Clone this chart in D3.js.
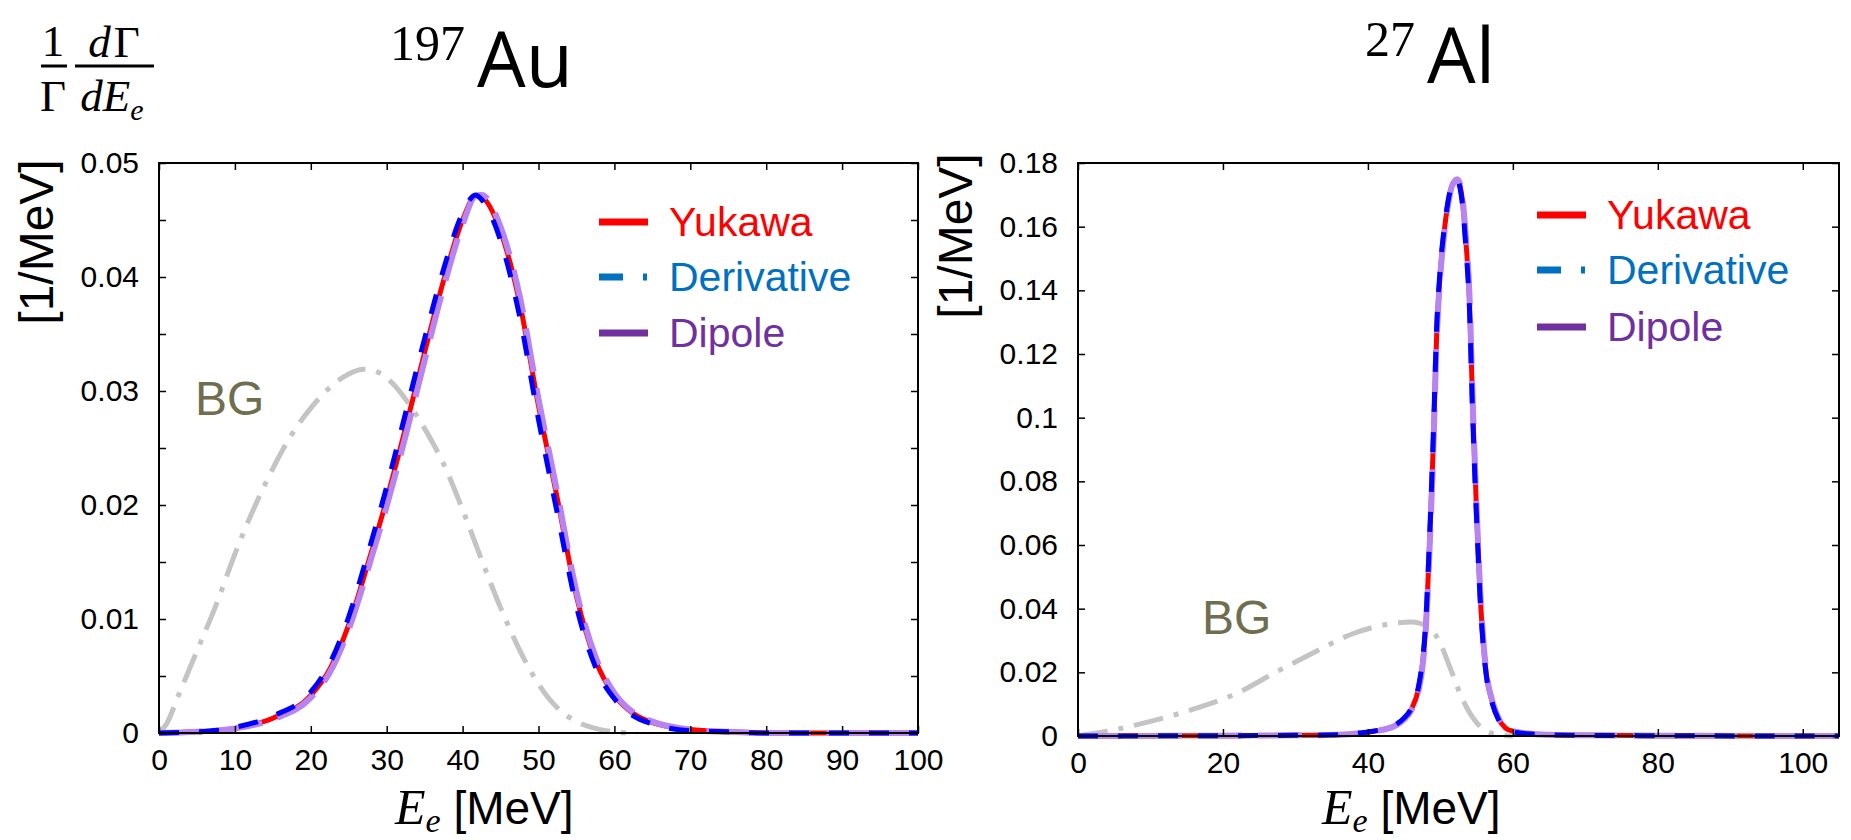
<!DOCTYPE html>
<html>
<head>
<meta charset="utf-8">
<script src="https://cdn.jsdelivr.net/npm/d3@7"></script>
<style>
  body { margin: 0; background: #fff; }
  svg { display: block; }
  text { font-family: "Liberation Sans", Arial, sans-serif; }
</style>
</head>
<body>
<svg id="chart" width="1851" height="840"></svg>
<script>
// 197Au panel, values
const auX = [0, 5, 10, 15, 20, 22.5, 25, 27.5, 30, 32.5, 35, 37.5, 40, 41.7, 42.5, 45, 47.5, 50, 52.5, 55, 57.5, 60, 62.5, 65, 70, 75, 80, 90, 100];
const auYukawa     = [0, 0.0001, 0.0004, 0.0013, 0.0033, 0.0056, 0.0095, 0.0148, 0.0205, 0.0268, 0.0334, 0.0397, 0.0450, 0.0471, 0.0470, 0.0440, 0.0378, 0.0287, 0.0205, 0.0120, 0.0064, 0.0033, 0.0017, 0.0009, 0.0003, 0.0001, 0, 0, 0];
const auDerivative = [0, 0.0001, 0.0005, 0.0015, 0.0036, 0.0061, 0.0102, 0.0157, 0.0216, 0.0281, 0.0346, 0.0407, 0.0456, 0.0472, 0.0468, 0.0432, 0.0366, 0.0275, 0.0192, 0.0111, 0.0058, 0.0030, 0.0015, 0.0008, 0.0002, 0.0001, 0, 0, 0];
const auDipole     = [0, 0.0001, 0.0004, 0.0012, 0.0031, 0.0053, 0.0091, 0.0143, 0.0199, 0.0261, 0.0327, 0.0391, 0.0446, 0.0471, 0.0472, 0.0444, 0.0384, 0.0293, 0.0210, 0.0124, 0.0067, 0.0035, 0.0018, 0.0010, 0.0003, 0.0001, 0, 0, 0];
const auBgX = [0, 1, 2.5, 5, 7.5, 10, 12.5, 15, 17.5, 20, 22.5, 25, 27, 29, 31, 33, 35, 37.5, 40, 42.5, 45, 47.5, 50, 52.5, 55, 57.5, 60, 63];
const auBg  = [0, 0.0008, 0.0032, 0.0072, 0.0112, 0.0157, 0.0197, 0.0232, 0.0262, 0.0285, 0.0303, 0.0315, 0.0319, 0.0316, 0.0305, 0.0288, 0.0267, 0.0236, 0.0196, 0.0152, 0.0110, 0.0073, 0.0043, 0.0022, 0.0010, 0.0004, 0.0001, 0];
const auXTicks = [0, 10, 20, 30, 40, 50, 60, 70, 80, 90, 100];
const auYTicks = [0, 0.005, 0.01, 0.015, 0.02, 0.025, 0.03, 0.035, 0.04, 0.045, 0.05];
const auYLabels = [0, 0.01, 0.02, 0.03, 0.04, 0.05];

// 27Al panel
const alX = [0, 20, 30, 36, 40, 42, 44, 45, 46, 47, 47.5, 48, 48.5, 49, 49.5, 50, 50.5, 51, 51.5, 52, 52.3, 52.7, 53, 53.5, 54, 54.5, 55, 55.5, 56, 56.5, 57, 58, 59, 60, 62, 65, 70, 80, 105];
const alYukawa     = [0, 0.0001, 0.0002, 0.0004, 0.0012, 0.0020, 0.0036, 0.0054, 0.0084, 0.0150, 0.0220, 0.0350, 0.0600, 0.0900, 0.1270, 0.1460, 0.1580, 0.1665, 0.1722, 0.1745, 0.1748, 0.1730, 0.1690, 0.1560, 0.1376, 0.1003, 0.0700, 0.0440, 0.0270, 0.0170, 0.0120, 0.0055, 0.0025, 0.0015, 0.0007, 0.0004, 0.0002, 0.0001, 0];
const alDerivative = [0, 0.0001, 0.0002, 0.0004, 0.0013, 0.0021, 0.0038, 0.0057, 0.0088, 0.0158, 0.0232, 0.0365, 0.0620, 0.0925, 0.1290, 0.1475, 0.1590, 0.1672, 0.1726, 0.1746, 0.1745, 0.1722, 0.1678, 0.1540, 0.1350, 0.0975, 0.0680, 0.0425, 0.0260, 0.0164, 0.0115, 0.0052, 0.0024, 0.0014, 0.0007, 0.0004, 0.0002, 0.0001, 0];
const alDipole     = [0, 0.0001, 0.0002, 0.0004, 0.0012, 0.0019, 0.0035, 0.0052, 0.0081, 0.0145, 0.0212, 0.0340, 0.0585, 0.0880, 0.1255, 0.1450, 0.1572, 0.1660, 0.1720, 0.1744, 0.1749, 0.1735, 0.1698, 0.1572, 0.1392, 0.1020, 0.0715, 0.0452, 0.0278, 0.0175, 0.0124, 0.0057, 0.0026, 0.0016, 0.0008, 0.0004, 0.0002, 0.0001, 0];
const alBgX = [0, 4, 10, 16, 22, 27, 32, 38, 43, 46, 48.5, 50, 51.5, 53, 55, 57.5, 60];
const alBg  = [0, 0.0015, 0.0046, 0.0085, 0.0135, 0.0197, 0.0256, 0.0322, 0.0352, 0.0358, 0.0340, 0.0290, 0.0205, 0.0118, 0.0042, 0.0006, 0];
const alXTicks = [0, 20, 40, 60, 80, 100];
const alYTicks = [0, 0.02, 0.04, 0.06, 0.08, 0.1, 0.12, 0.14, 0.16, 0.18];

const seriesNames = ["Yukawa", "Derivative", "Dipole"];

const svg = d3.select("#chart");
const SERIF = "'Liberation Serif', 'Times New Roman', serif";

function fmt(d) {
    return d === 0 ? "0" : String(+d.toFixed(3));
}

function makePanel(p) {
    const x = d3.scaleLinear().domain(p.xDomain).range([p.left, p.right]);
    const y = d3.scaleLinear().domain(p.yDomain).range([p.bottom, p.top]);
    const g = svg.append("g");

    const line = (xs) => d3.line()
        .x((d, i) => x(xs[i]))
        .y(d => y(d))
        .curve(d3.curveMonotoneX);

    // BG, dash-dot grey
    g.append("path")
        .attr("d", line(p.bgX)(p.bg))
        .attr("fill", "none")
        .attr("stroke", "#c4c4c4")
        .attr("stroke-width", 5)
        .attr("stroke-dasharray", "30,11,5,11");

    g.append("path")
        .attr("d", line(p.xs)(p.yukawa))
        .attr("fill", "none")
        .attr("stroke", "#ff0000")
        .attr("stroke-width", 5);
    g.append("path")
        .attr("d", line(p.xs)(p.dipole))
        .attr("fill", "none")
        .attr("stroke", "#b784f2")
        .attr("stroke-width", 6)
        .attr("stroke-dasharray", "44,16");
    g.append("path")
        .attr("d", line(p.xs)(p.derivative))
        .attr("fill", "none")
        .attr("stroke", "#0000ff")
        .attr("stroke-width", 5)
        .attr("stroke-dasharray", "20,20");

    // frame
    g.append("rect")
        .attr("x", p.left).attr("y", p.top)
        .attr("width", p.right - p.left).attr("height", p.bottom - p.top)
        .attr("fill", "none").attr("stroke", "#000").attr("stroke-width", 2);

    const axes = [
        d3.axisBottom(x).tickValues(p.xTicks).tickSize(-7).tickPadding(16).tickFormat(d3.format("d")),
        d3.axisTop(x).tickValues(p.xTicks).tickSize(-7).tickFormat(""),
        d3.axisLeft(y).tickValues(p.yTicks).tickSize(-7).tickPadding(20)
            .tickFormat(d => p.yLabels.some(v => Math.abs(v - d) < 1e-9) ? fmt(d) : ""),
        d3.axisRight(y).tickValues(p.yTicks).tickSize(-7).tickFormat("")
    ];
    const pos = [
        `translate(0,${p.bottom})`, `translate(0,${p.top})`,
        `translate(${p.left},0)`, `translate(${p.right},0)`
    ];
    axes.forEach((a, i) => {
        const ag = g.append("g").attr("transform", pos[i]).call(a);
        ag.select(".domain").remove();
        ag.selectAll(".tick line").attr("stroke", "#000").attr("stroke-width", 1.5);
        ag.selectAll(".tick text").attr("fill", "#000")
            .style("font-family", "'Liberation Sans', Arial, sans-serif")
            .style("font-size", "30px");
    });

    // y label
    g.append("text")
        .attr("transform", `translate(${p.yLabelX},${p.yLabelY}) rotate(-90)`)
        .attr("text-anchor", "middle")
        .attr("dominant-baseline", "central")
        .style("font-size", "48px")
        .text("[1/MeV]");

    // x label
    const xl = g.append("text")
        .attr("x", p.xLabelX).attr("y", 824);
    xl.append("tspan").text("E")
        .style("font-family", SERIF).style("font-style", "italic").style("font-size", "50px");
    xl.append("tspan").text("e").attr("dy", 8)
        .style("font-family", SERIF).style("font-style", "italic").style("font-size", "34px");
    xl.append("tspan").text("\u00a0[MeV]").attr("dy", -8)
        .style("font-size", "46px");

    // title
    const t = g.append("text").attr("x", p.titleX).attr("y", p.titleY);
    t.append("tspan").text(p.mass)
        .style("font-family", SERIF).style("font-size", "50px")
        .attr("dy", -27);
    t.append("tspan").text(p.elem)
        .style("font-family", "'Open Sans', sans-serif").style("font-size", "77px")
        .attr("dx", 12).attr("dy", 27);

    // BG label
    g.append("text")
        .attr("x", p.bgLabel[0]).attr("y", p.bgLabel[1])
        .attr("fill", "#6f6f50")
        .style("font-size", "48px")
        .text("BG");

    // legend
    const legColors = ["#ff0000", "#0070c0", "#7030a0"];
    seriesNames.forEach((name, i) => {
        const ly = p.legendY[i];
        g.append("line")
            .attr("x1", p.legendX).attr("x2", p.legendX + 49)
            .attr("y1", ly).attr("y2", ly)
            .attr("stroke", legColors[i]).attr("stroke-width", 7)
            .attr("stroke-dasharray", i === 1 ? "24,20,4,200" : null);
        g.append("text")
            .attr("x", p.legendX + 70).attr("y", ly)
            .attr("dominant-baseline", "central")
            .attr("fill", legColors[i])
            .style("font-size", "41px")
            .text(name);
    });
}

makePanel({
    left: 159, right: 918, top: 163, bottom: 733,
    xDomain: [0, 100], yDomain: [0, 0.05],
    xs: auX, yukawa: auYukawa, derivative: auDerivative, dipole: auDipole,
    bgX: auBgX, bg: auBg,
    xTicks: auXTicks, yTicks: auYTicks, yLabels: auYLabels,
    yLabelX: 36, yLabelY: 242, xLabelX: 395,
    titleX: 390, titleY: 87, mass: "197", elem: "Au",
    bgLabel: [195, 415],
    legendX: 599, legendY: [222, 277, 333]
});

makePanel({
    left: 1078, right: 1839, top: 163, bottom: 736,
    xDomain: [0, 105], yDomain: [0, 0.18],
    xs: alX, yukawa: alYukawa, derivative: alDerivative, dipole: alDipole,
    bgX: alBgX, bg: alBg,
    xTicks: alXTicks, yTicks: alYTicks, yLabels: alYTicks,
    yLabelX: 955, yLabelY: 236, xLabelX: 1322,
    titleX: 1365, titleY: 83, mass: "27", elem: "Al",
    bgLabel: [1202, 634],
    legendX: 1537, legendY: [215, 270, 327]
});

// formula 1/Γ dΓ/dE_e
const f = svg.append("g");
function ftext(xp, yp) {
    return f.append("text").attr("x", xp).attr("y", yp).attr("text-anchor", "middle")
        .style("font-family", SERIF).style("font-size", "45px");
}
ftext(53, 56).text("1");
ftext(53, 111).text("\u0393");
f.append("line").attr("x1", 41).attr("x2", 67).attr("y1", 66).attr("y2", 66).attr("stroke", "#000").attr("stroke-width", 3);
const num = ftext(114, 57);
num.append("tspan").text("d").style("font-style", "italic");
num.append("tspan").text("\u0393").attr("dx", 3);
f.append("line").attr("x1", 75).attr("x2", 154).attr("y1", 66).attr("y2", 66).attr("stroke", "#000").attr("stroke-width", 3);
const den = ftext(112, 111).style("font-style", "italic");
den.append("tspan").text("dE");
den.append("tspan").text("e").attr("dy", 9).style("font-size", "30px");
</script>
</body>
</html>
